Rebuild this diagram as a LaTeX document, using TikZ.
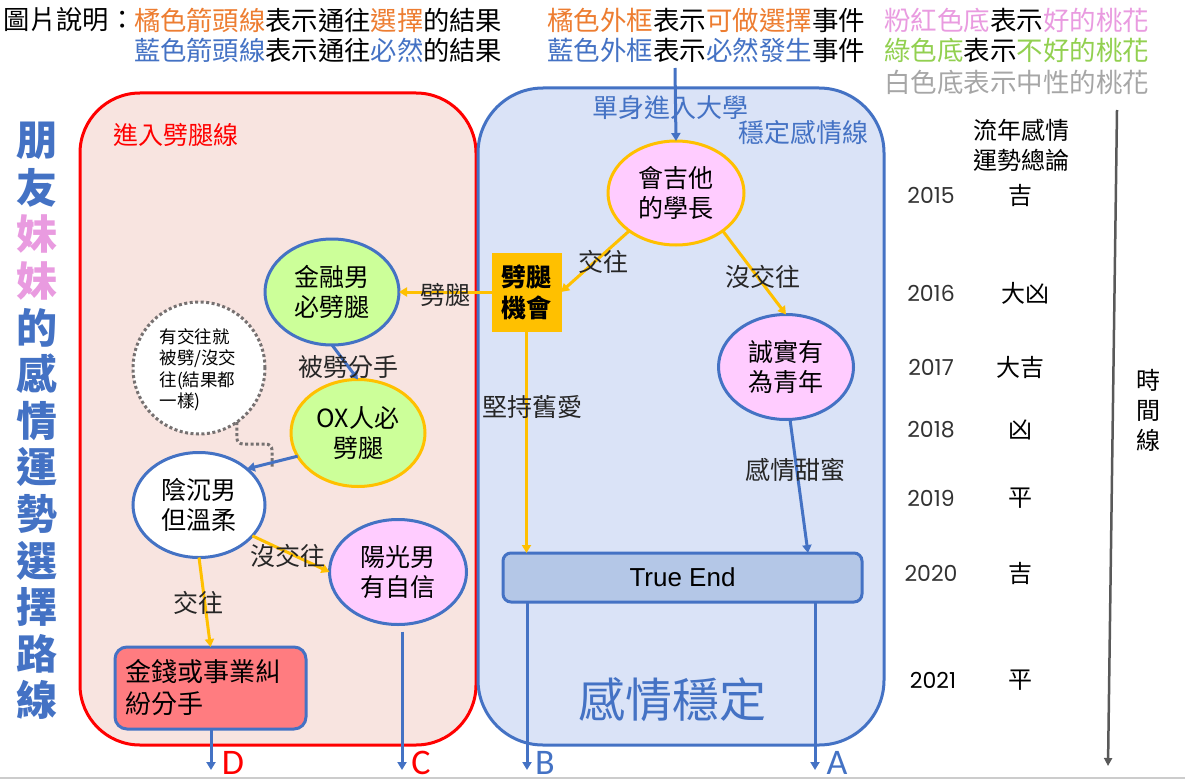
\documentclass[tikz,border=0pt]{standalone}
\usepackage{fontspec}
\setmainfont{Noto Sans CJK TC}
\newfontfamily\arialf{Liberation Sans}
\newfontfamily\popf{Poppins}
\newfontfamily\carlf{Carlito}
\usetikzlibrary{shapes.geometric,arrows.meta,calc}
\definecolor{ora}{HTML}{ED7D31}
\definecolor{blu}{HTML}{4472C4}
\definecolor{pnk}{HTML}{E99BE0}
\definecolor{grn}{HTML}{92D050}
\definecolor{gry}{HTML}{A6A6A6}
\definecolor{gold}{HTML}{FFC000}
\definecolor{pinkfill}{HTML}{FFCCFF}
\definecolor{greenfill}{HTML}{CCFF99}
\definecolor{redbg}{HTML}{F8E4E0}
\definecolor{bluebg}{HTML}{DAE3F7}
\definecolor{truefill}{HTML}{B4C7E7}
\definecolor{moneyfill}{HTML}{FF7C80}
\definecolor{dotgray}{HTML}{767171}
\definecolor{tlgray}{HTML}{595959}
\definecolor{redline}{HTML}{FF0000}
\newcommand\myfs[2]{\fontsize{#1}{#2}\selectfont}
\begin{document}
\begin{tikzpicture}[x=1pt,y=-1pt,
  every node/.style={inner sep=0pt,outer sep=0pt},
  ell/.style={ellipse,line width=3pt,align=center,font=\myfs{25}{30}},
  lbl/.style={font=\myfs{25}{30},text=black!85},
  legend/.style={font=\myfs{26.3}{30},anchor=west},
  legendr/.style={font=\myfs{26.5}{30},anchor=west},
  tip/.style={-{Triangle[length=8pt,width=9pt]}},
  garr/.style={draw=gold,line width=3pt,tip},
  barr/.style={draw=blu,line width=3pt,tip},
  endlbl/.style={font=\carlf\myfs{36}{40}},
  yearlbl/.style={font=\popf\myfs{22}{24},text=black!80},
  fortlbl/.style={font=\myfs{24}{28}},
  titlechar/.style={font=\bfseries\myfs{41}{43}},
  dotline/.style={draw=dotgray,line width=3pt,dash pattern=on 3pt off 2.5pt},
]
\useasboundingbox (0,0) rectangle (1185,781);
\fill[white] (0,0) rectangle (1185,781);
\draw[line width=1.5pt,draw=black!20] (0,778) -- (1185,778);

% background panels
\draw[redline,fill=redbg,line width=3pt,rounded corners=60pt] (80,93) rectangle (476,745);
\draw[blu,fill=bluebg,line width=3pt,rounded corners=65pt] (478,88) rectangle (884,745);

% legend
\node[legend] (lg0) at (4,20) {圖片說明：};
\node[legend] (lg1) at (134,20) {\textcolor{ora}{橘色箭頭線}表示通往\textcolor{ora}{選擇}的結果};
\node[legend] (lg2) at (134,50) {\textcolor{blu}{藍色箭頭線}表示通往\textcolor{blu}{必然}的結果};
\node[legendr] (lg3) at (547,20) {\textcolor{ora}{橘色外框}表示\textcolor{ora}{可做選擇}事件};
\node[legendr] (lg4) at (547,50) {\textcolor{blu}{藍色外框}表示\textcolor{blu}{必然發生}事件};
\node[legendr] (lg5) at (884,20) {\textcolor{pnk}{粉紅色底}表示\textcolor{pnk}{好的桃花}};
\node[legendr] (lg6) at (884,50) {\textcolor{grn}{綠色底}表示\textcolor{grn}{不好的桃花}};
\node[legendr,text=gry] (lg7) at (884,82) {白色底表示中性的桃花};

% left title
\foreach \c/\col [count=\i from 0] in {朋/blu,友/blu,妹/pnk,妹/pnk,的/blu,感/blu,情/blu,運/blu,勢/blu,選/blu,擇/blu,路/blu,線/blu}
  \node[titlechar,text=\col] (tt\i) at (37,{141+46.6*\i}) {\c};

% panel titles
\node[font=\myfs{25}{30},text=redline,anchor=west] (redtitle) at (113,135) {進入劈腿線};
\node[font=\myfs{26}{30},text=blu] (single) at (670,108) {單身進入大學};
\node[font=\myfs{26}{30},text=blu] (stable) at (803,133) {穩定感情線};
\node[font=\myfs{47}{50},text=blu] (steady) at (672,700) {感情穩定};

% nodes
\node[ell,draw=gold,fill=pinkfill,minimum width=136pt,minimum height=104pt] (hui) at (676,193) {會吉他\\的學長};
\node[draw=gold,fill=gold,line width=1pt,minimum width=69pt,minimum height=78pt,align=center,font=\bfseries\myfs{25}{31}] (pitui) at (526.5,292) {劈腿\\機會};
\node[ell,draw=blu,fill=pinkfill,minimum width=135pt,minimum height=105pt] (cs) at (786,367) {誠實有\\為青年};
\node[draw=blu,fill=truefill,line width=3pt,rounded corners=8pt,minimum width=359pt,minimum height=49pt,font=\arialf\myfs{26}{30}] (true) at (682.5,577.5) {True End};
\node[ell,draw=blu,fill=greenfill,minimum width=134pt,minimum height=106pt] (jr) at (332,292) {金融男\\必劈腿};
\node[ell,draw=gold,fill=greenfill,minimum width=134pt,minimum height=107pt] (ox) at (358,433) {OX人必\\劈腿};
\node[ell,draw=blu,fill=white,minimum width=132pt,minimum height=105pt] (yc) at (199,505) {陰沉男\\但溫柔};
\node[ell,draw=blu,fill=pinkfill,minimum width=137pt,minimum height=105pt] (yg) at (398,572) {陽光男\\有自信};
\node[draw=blu,fill=moneyfill,line width=3pt,rounded corners=12pt,minimum width=191pt,minimum height=82pt,inner xsep=10pt,text width=171pt,align=left,font=\myfs{26}{32}] (money) at (210.5,688) {金錢或事業糾\\紛分手};

% callout
\node[circle,dotline,fill=white,minimum size=132pt] (call) at (199,368) {};
\node[align=left,font=\myfs{17.5}{21.5}] (callt) at (198,370) {有交往就\\被劈/沒交\\往(結果都\\一樣)};
\coordinate (ctail) at (272,467);
\draw[dotline,rounded corners=6pt] (call.-55) |- ($(ctail)+(0,-23)$) -- (ctail);

% connectors
\coordinate (startpt) at (675,68);
\draw[barr] (startpt) -- (hui.north);
\draw[garr] (hui.219) -- (pitui.east);
\draw[garr] (hui.-39) -- (cs.north);
\draw[garr] (pitui.south) -- (pitui.south |- true.north);
\draw[garr] (pitui.west) -- (jr.east);
\draw[barr] (jr.south) -- (ox.north);
\draw[barr] (ox.201) -- (yc.37);
\draw[garr] (yc.-30) -- (yg.west);
\draw[garr] (yc.south) -- (money.north);
\draw[barr] ([xshift=4pt]cs.south) -- ($(true.north)+(125.5,0)$);

\coordinate (Bend) at (527,770);
\coordinate (Aend) at (815,770);
\coordinate (Cend) at (402,770);
\coordinate (Dend) at (211,770);
\draw[barr] (true.south -| Bend) -- (Bend);
\draw[barr] (true.south -| Aend) -- (Aend);
\draw[barr] ([yshift=-7pt]yg.south -| Cend) -- (Cend);
\draw[barr] (money.south -| Dend) -- (Dend);
\node[endlbl,text=redline] (lD) at (233,763) {D};
\node[endlbl,text=redline] (lC) at (421,763) {C};
\node[endlbl,text=blu] (lB) at (545,763) {B};
\node[endlbl,text=blu] (lA) at (837,763) {A};

% edge labels
\node[lbl] (e1) at (603,262) {交往};
\node[lbl] (e2) at (763,277) {沒交往};
\node[lbl] (e3) at (532,407) {堅持舊愛};
\node[lbl] (e4) at (445,295) {劈腿};
\node[lbl] (e5) at (348,367) {被劈分手};
\node[lbl] (e6) at (288,556) {沒交往};
\node[lbl] (e7) at (198,603) {交往};
\node[lbl] (e8) at (795,470) {感情甜蜜};

% timeline
\node[font=\myfs{24}{30},align=center] (tlh) at (1021,145) {流年感情\\運勢總論};
\coordinate (tl1) at (1117,110);
\coordinate (tl2) at (1108,766);
\draw[draw=tlgray,line width=2.5pt,-{Triangle[length=8pt,width=8pt]}] (tl1) -- (tl2);
\node[font=\myfs{24}{30},align=center] (timeline) at (1148,410) {時\\間\\線};

\node[yearlbl] (y15) at (931,195) {2015};
\node[yearlbl] (y16) at (931,293) {2016};
\node[yearlbl] (y17) at (931,367) {2017};
\node[yearlbl] (y18) at (931,430) {2018};
\node[yearlbl] (y19) at (931,498) {2019};
\node[yearlbl] (y20) at (931,573) {2020};
\node[yearlbl,text=black] (y21) at (933,680) {2021};
\node[fortlbl] (f15) at (1020,195) {吉};
\node[fortlbl] (f16) at (1025,293) {大凶};
\node[fortlbl] (f17) at (1020,367) {大吉};
\node[fortlbl] (f18) at (1020,430) {凶};
\node[fortlbl] (f19) at (1020,498) {平};
\node[fortlbl] (f20) at (1020,573) {吉};
\node[fortlbl] (f21) at (1020,680) {平};
\end{tikzpicture}
\end{document}
